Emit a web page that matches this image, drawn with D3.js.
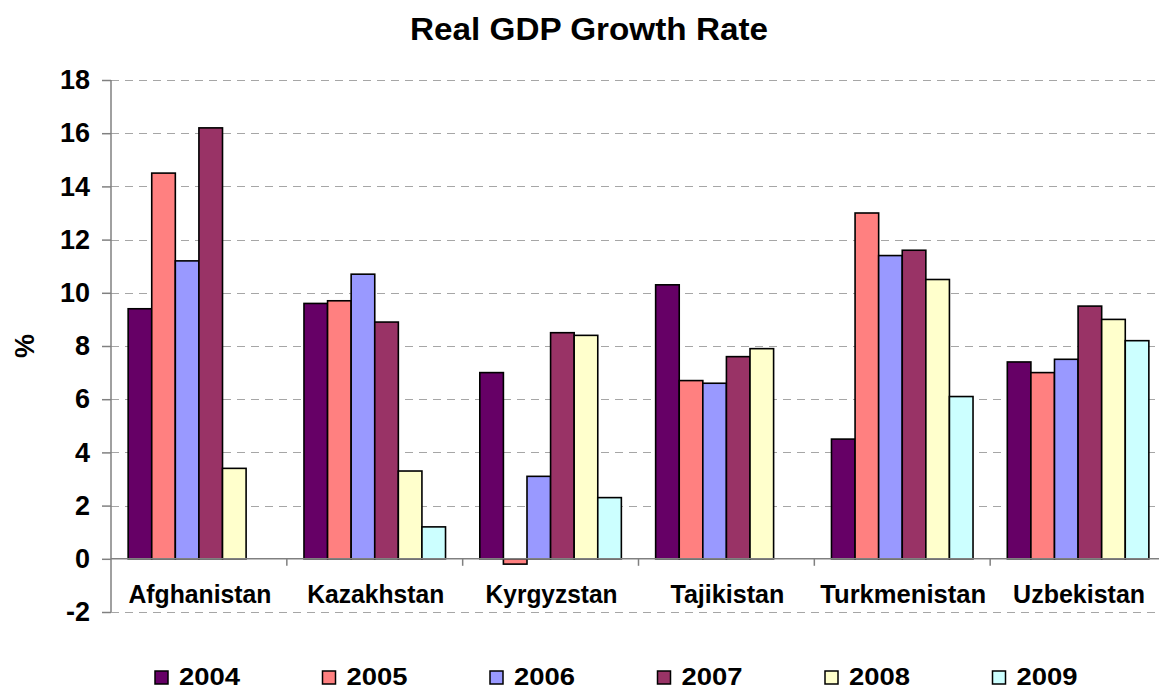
<!DOCTYPE html>
<html>
<head>
<meta charset="utf-8">
<script src="https://cdn.jsdelivr.net/npm/d3@7"></script>
<style>
  html, body { margin: 0; padding: 0; background: #fff; }
  svg { display: block; font-family: "Liberation Sans", Arial, sans-serif; }
</style>
</head>
<body>
<svg id="chart" width="1159" height="690"></svg>
<script>
const title = "Real GDP Growth Rate";
const yLabel = "%";
const categories = ["Afghanistan", "Kazakhstan", "Kyrgyzstan", "Tajikistan", "Turkmenistan", "Uzbekistan"];
const years = ["2004", "2005", "2006", "2007", "2008", "2009"];
const v2004 = [9.4, 9.6, 7.0, 10.3, 4.5, 7.4];
const v2005 = [14.5, 9.7, -0.2, 6.7, 13.0, 7.0];
const v2006 = [11.2, 10.7, 3.1, 6.6, 11.4, 7.5];
const v2007 = [16.2, 8.9, 8.5, 7.6, 11.6, 9.5];
const v2008 = [3.4, 3.3, 8.4, 7.9, 10.5, 9.0];
const v2009 = [null, 1.2, 2.3, null, 6.1, 8.2];
const yTicks = [-2, 0, 2, 4, 6, 8, 10, 12, 14, 16, 18];
const colors = ["#660066", "#FF8080", "#9999FF", "#993366", "#FFFFCC", "#CCFFFF"];

const seriesValues = [v2004, v2005, v2006, v2007, v2008, v2009];
const svg = d3.select("#chart");

const plotLeft = 111, plotRight = 1166, plotTop = 80, plotBottom = 612;
const x = d3.scaleBand().domain(categories).range([plotLeft, plotRight]).padding(0);
const bw = x.bandwidth();
const inner = d3.scaleBand().domain(years).range([bw * 0.0975, bw * (1 - 0.0975)]).padding(0);
const y = d3.scaleLinear().domain([-2, 18]).range([plotBottom, plotTop]);

// gridlines
svg.append("g").selectAll("line").data(yTicks.filter(t => t !== 0)).join("line")
  .attr("x1", plotLeft).attr("x2", 1159)
  .attr("y1", d => Math.round(y(d)) + 0.5).attr("y2", d => Math.round(y(d)) + 0.5)
  .attr("stroke", "#a6a6a6").attr("stroke-width", 1.2).attr("stroke-dasharray", "8,6");

// y axis
const yAxis = d3.axisLeft(y).tickValues(yTicks).tickSize(9).tickPadding(12).tickFormat(d => String(d));
const gy = svg.append("g").attr("transform", `translate(${plotLeft},0)`).call(yAxis);
gy.select(".domain").attr("stroke", "#808080").attr("stroke-width", 1.5).attr("d", `M0,${plotTop}V${plotBottom}`);
gy.selectAll(".tick line").attr("stroke", "#808080").attr("stroke-width", 1.5);
gy.selectAll(".tick text").attr("font-size", 27).attr("font-weight", "bold").attr("fill", "#000")
  .attr("font-family", "Liberation Sans, Arial, sans-serif");

// bars
const series = years.map((yr, i) => ({ year: yr, color: colors[i], values: seriesValues[i] }));
const gBars = svg.append("g");
series.forEach(s => {
  gBars.append("g").selectAll("rect")
    .data(categories.map((c, j) => ({ cat: c, v: s.values[j] })).filter(d => d.v !== null))
    .join("rect")
    .attr("x", d => x(d.cat) + inner(s.year))
    .attr("width", inner.bandwidth())
    .attr("y", d => y(Math.max(0, d.v)))
    .attr("height", d => Math.abs(y(d.v) - y(0)))
    .attr("fill", s.color)
    .attr("stroke", "#000").attr("stroke-width", 1.6);
});

// x axis line at 0
const xAxis = d3.axisBottom(x).tickSize(0).tickFormat("");
const gx = svg.append("g").attr("transform", `translate(0,${y(0)})`).call(xAxis);
gx.select(".domain").attr("stroke", "#808080").attr("stroke-width", 1.5).attr("d", `M${plotLeft},0H${plotRight}`);
gx.selectAll(".tick").remove();
gx.selectAll("line.bt").data(categories.slice(1)).join("line").attr("class", "bt")
  .attr("x1", d => x(d)).attr("x2", d => x(d)).attr("y1", 0).attr("y2", 7)
  .attr("stroke", "#808080").attr("stroke-width", 1.5);

// category labels
const catWidths = { "Afghanistan": 143, "Kazakhstan": 137, "Kyrgyzstan": 132, "Tajikistan": 114, "Turkmenistan": 166, "Uzbekistan": 132 };
svg.append("g").selectAll("text").data(categories).join("text")
  .attr("x", d => x(d) + bw / 2 + 1).attr("y", 603)
  .attr("text-anchor", "middle").attr("font-size", 25).attr("font-weight", "bold")
  .attr("textLength", d => catWidths[d]).attr("lengthAdjust", "spacingAndGlyphs")
  .text(d => d);

// title
svg.append("text").attr("x", 589).attr("y", 40).attr("text-anchor", "middle")
  .attr("font-size", 31).attr("font-weight", "bold")
  .attr("textLength", 358).attr("lengthAdjust", "spacingAndGlyphs")
  .text(title);

// y label
svg.append("text").attr("transform", "translate(34,346) rotate(-90)")
  .attr("text-anchor", "middle").attr("font-size", 27).attr("font-weight", "bold")
  .text(yLabel);

// legend
const lg = svg.append("g").selectAll("g").data(series).join("g")
  .attr("transform", (d, i) => `translate(${155 + i * 167.5},0)`);
lg.append("rect").attr("x", 0).attr("y", 671).attr("width", 13).attr("height", 13)
  .attr("fill", d => d.color).attr("stroke", "#000").attr("stroke-width", 1.5);
lg.append("text").attr("x", 24).attr("y", 685).attr("font-size", 23).attr("font-weight", "bold")
  .attr("textLength", 61).attr("lengthAdjust", "spacingAndGlyphs")
  .text(d => d.year);
</script>
</body>
</html>
